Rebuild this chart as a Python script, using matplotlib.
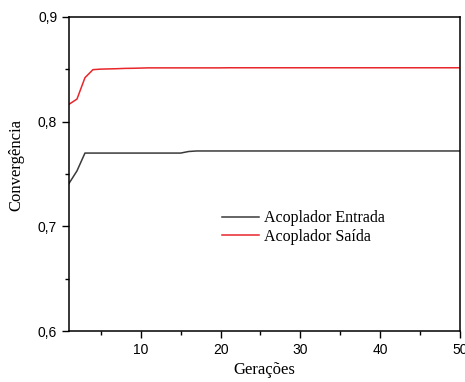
import matplotlib
matplotlib.use("Agg")
import matplotlib.pyplot as plt
from matplotlib.ticker import FuncFormatter, MultipleLocator

# Data
geracoes = list(range(1, 51))
entrada = [0.741, 0.753, 0.770] + [0.770] * 12 + [0.7715] + [0.772] * 34
saida = [0.8166, 0.8216, 0.842, 0.8497, 0.8502, 0.8504, 0.8506, 0.8509, 0.851, 0.8512] \
    + [0.8514] * 10 + [0.8515] * 30

fig = plt.figure(figsize=(4.65, 3.82), dpi=100)
ax = fig.add_axes([0.1484, 0.1335, 0.8406, 0.822])

ax.plot(geracoes, entrada, color='#3a3a3a', linewidth=1.1, label='Acoplador Entrada')
ax.plot(geracoes, saida, color='#e8262b', linewidth=1.1, label='Acoplador Saída')

ax.set_xlim(1, 50)
ax.set_ylim(0.6, 0.9)
ax.xaxis.set_major_locator(MultipleLocator(10))
ax.xaxis.set_minor_locator(MultipleLocator(5))
ax.yaxis.set_major_locator(MultipleLocator(0.1))
ax.yaxis.set_minor_locator(MultipleLocator(0.05))
ax.yaxis.set_major_formatter(FuncFormatter(lambda v, p: f"{v:.1f}".replace('.', ',')))
ax.tick_params(which='both', direction='out', top=False, right=False)
ax.tick_params(which='major', length=5, width=1)
ax.tick_params(which='minor', length=3, width=1)
for lab in ax.get_xticklabels() + ax.get_yticklabels():
    lab.set_fontfamily('Liberation Sans')
    lab.set_fontsize(10)
for s in ax.spines.values():
    s.set_linewidth(1.1)

ax.set_xlabel('Gerações', fontfamily='Liberation Serif', fontsize=12, labelpad=4)
ax.set_ylabel('Convergência', fontfamily='Liberation Serif', fontsize=12)
ax.yaxis.set_label_coords(-0.115, 0.53)

ax.legend(loc='upper left', bbox_to_anchor=(0.355, 0.43), frameon=False,
          prop={'family': 'Liberation Serif', 'size': 11.5},
          handlelength=2.3, handletextpad=0.35, labelspacing=0.15)

fig.savefig('out.png', dpi=100)
